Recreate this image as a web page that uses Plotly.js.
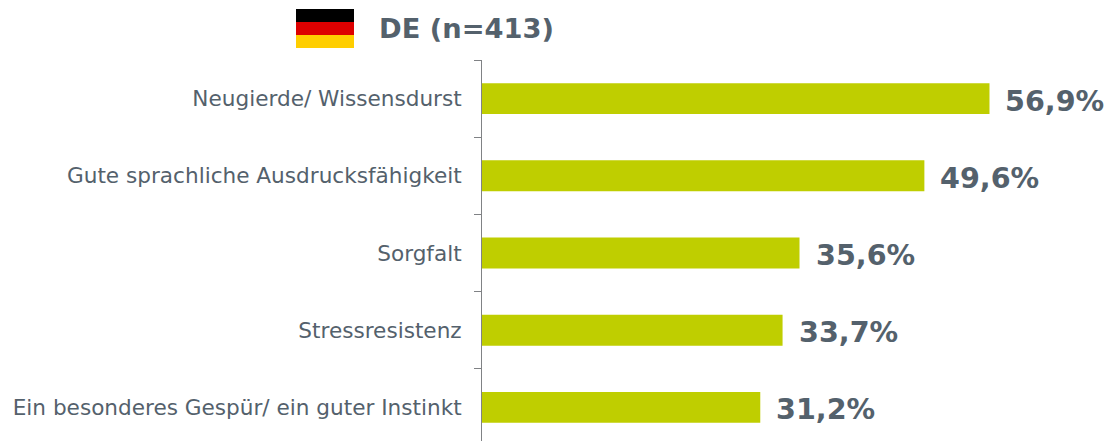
<!DOCTYPE html>
<html><head><meta charset="utf-8">
<script src="https://cdn.plot.ly/plotly-3.0.1.min.js"></script>
<style>html,body{margin:0;padding:0;background:#fff;overflow:hidden}</style></head>
<body><div id="chart" style="width:1109px;height:441px;overflow:hidden"></div>
<script>
const categories = ["Neugierde/ Wissensdurst","Gute sprachliche Ausdrucksfähigkeit","Sorgfalt","Stressresistenz","Ein besonderes Gespür/ ein guter Instinkt"];
const values = [56.9,49.6,35.6,33.7,31.2];
const labels = ["56,9%","49,6%","35,6%","33,7%","31,2%"];
const flagColors = ["#000000","#DD0000","#FFCE00"];
const fontName = "DejaVu Sans, Verdana, sans-serif";
const textColor = "#54616C";
const plotH = 386, plotW = 627, plotLeft = 482, plotTop = 60;
const flagShapes = flagColors.map((c,i)=>({type:"rect",xref:"paper",yref:"paper",layer:"above",line:{width:0},fillcolor:c,
  x0:(296-plotLeft)/plotW,x1:(354-plotLeft)/plotW,y0:1-(9+13*i+13-plotTop)/plotH,y1:1-(9+13*i-plotTop)/plotH}));
const valueNotes = categories.map((c,i)=>({xref:"x",yref:"y",x:values[i],y:c,xanchor:"left",yanchor:"middle",xshift:14,yshift:-2,showarrow:false,
  text:"<b>"+labels[i]+"</b>",font:{family:fontName,size:28.6,color:textColor}}));
Plotly.newPlot("chart",[{type:"bar",orientation:"h",y:categories,x:values,marker:{color:"#BFCE00"},width:0.4,hoverinfo:"skip"}],{
  width:1109,height:446,margin:{l:plotLeft,r:0,t:plotTop,b:0},showlegend:false,paper_bgcolor:"#fff",plot_bgcolor:"#fff",
  font:{family:fontName,color:textColor},
  xaxis:{range:[0,70.3],visible:false,fixedrange:true},
  yaxis:{autorange:"reversed",type:"category",showgrid:false,zeroline:false,showline:true,linecolor:"#808285",linewidth:1,
    ticks:"outside",tickson:"boundaries",ticklen:7,tickwidth:1,tickcolor:"#808285",ticklabelstandoff:15,
    tickfont:{family:fontName,size:21.6,color:textColor}},
  shapes:flagShapes,
  annotations:valueNotes.concat([{xref:"paper",yref:"paper",x:(377-plotLeft)/plotW,y:1-(29-plotTop)/plotH,xanchor:"left",yanchor:"middle",showarrow:false,text:"<b>DE (n=413)</b>",font:{family:fontName,size:27.3,color:textColor}}])
},{displayModeBar:false,staticPlot:true});
</script></body></html>
